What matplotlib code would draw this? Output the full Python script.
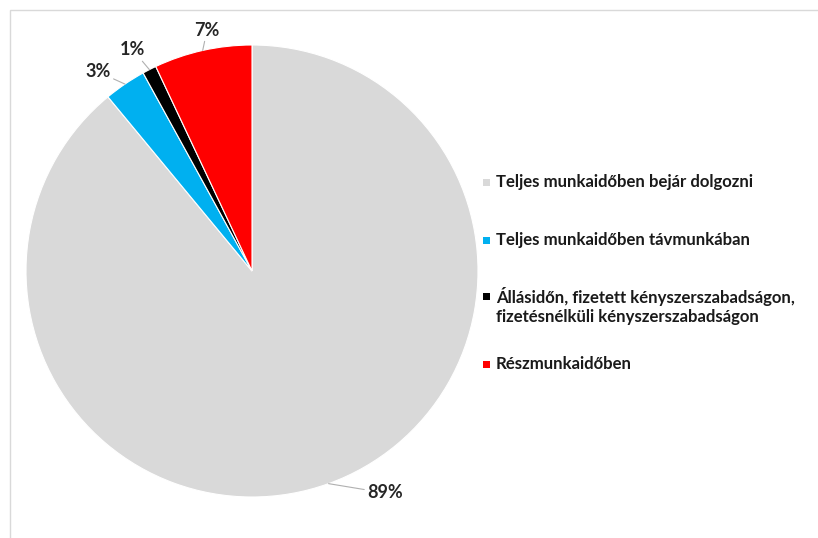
import numpy as np
import matplotlib
matplotlib.use("Agg")
import matplotlib.pyplot as plt
from matplotlib.patches import Rectangle

# Données
categories = [
    "Teljes munkaidőben bejár dolgozni",
    "Teljes munkaidőben távmunkában",
    "Állásidőn, fizetett kényszerszabadságon,\nfizetésnélküli kényszerszabadságon",
    "Részmunkaidőben",
]
values = [89, 3, 1, 7]
pct_labels = ["89%", "3%", "1%", "7%"]
colors = ["#d9d9d9", "#00b0f0", "#000000", "#ff0000"]

plt.rcParams['font.family'] = ['Lato', 'DejaVu Sans']

W, H = 818, 538
fig = plt.figure(figsize=(W / 100, H / 100), dpi=100)

# cadre gris clair
fig.patches.append(Rectangle((10 / W, -0.1), 1.2, (H - 10) / H + 0.1, transform=fig.transFigure,
                             fill=False, edgecolor="#d9d9d9", linewidth=1.0))

# axes couvrant toute la figure, echelle 226 px par unité
cx, cy, R = 252, 271, 226
ax = fig.add_axes([0, 0, 1, 1])
wedges, _ = ax.pie(values, colors=colors, startangle=90, counterclock=False,
                   wedgeprops=dict(edgecolor="white", linewidth=0.8))
ax.set_xlim(-cx / R, (W - cx) / R)
ax.set_ylim(-(H - cy) / R, cy / R)
ax.set_aspect("equal")

# étiquettes de pourcentage avec lignes de rappel
label_pos = [(0.588, -0.982), (-0.681, 0.881), (-0.527, 0.978), (-0.199, 1.066)]
for w, lab, pos in zip(wedges, pct_labels, label_pos):
    ang = np.deg2rad((w.theta1 + w.theta2) / 2)
    ax.annotate(lab, xy=(np.cos(ang), np.sin(ang)), xytext=pos,
                ha="center", va="center", fontsize=13, fontweight="bold", color="#262626",
                arrowprops=dict(arrowstyle="-", color="#b0b0b0", lw=0.8, shrinkA=0, shrinkB=0))

# légende manuelle
leg_y = [182, 240, 296, 364]
for cat, col, y in zip(categories, colors, leg_y):
    n = cat.count("\n")
    fig.patches.append(Rectangle((483 / W, 1 - (y + 4) / H), 7 / W, 7 / H,
                                 transform=fig.transFigure, facecolor=col, edgecolor="none"))
    fig.text(496 / W, 1 - (y + n * 10) / H, cat, ha="left", va="center",
             fontsize=12.1, fontweight="bold", color="#1a1a1a", linespacing=1.2,
             transform=fig.transFigure)

plt.savefig("out.png", dpi=100)
